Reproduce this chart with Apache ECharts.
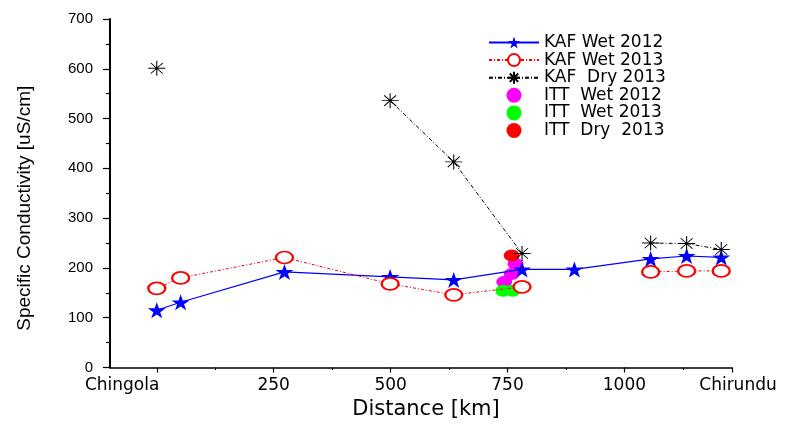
<!DOCTYPE html>
<html>
<head>
<meta charset="utf-8">
<script src="https://cdn.jsdelivr.net/npm/echarts@6/dist/echarts.min.js"></script>
<style>html,body{margin:0;padding:0;background:#fff}#c{width:795px;height:428px}</style>
</head>
<body>
<div id="c"></div>
<script>
// Sampling sites along the river (km from Chingola)
var sites = [0, 51, 273, 499, 635, 781, 893, 1056, 1133, 1207];
var kafWet2012 = [115, 131, 192, 182, 176, 197, 197, 218, 224, 221];
var kafWet2013 = [159, 180, 221, 168, 146, 162, null, 192, 194, 194];
var kafDry2013 = [601, null, null, 536, 413, 229, null, 250, 249, 237];

var ittWet2012Km = [743, 759, 767];
var ittWet2012Val = [172, 188, 208];
var ittWet2013Km = [741, 761];
var ittWet2013Val = [154, 154];
var ittDry2013Km = [759];
var ittDry2013Val = [225];

var xMajorTicks = [0, 250, 500, 750, 1000, 1230];
var xMinorTicks = [125, 375, 625, 875, 1125];
var xLabelValues = [-74, 250, 500, 750, 1000, 1230];
var xLabelNames = {'-74': 'Chingola', '1230': 'Chirundu'};

function pairs(xs, ys) { return xs.map(function (x, i) { return [x, ys[i]]; }); }

var STAR = 'path://M0,-10 L2.245,-3.09 L9.511,-3.09 L3.633,1.18 L5.878,8.09 L0,3.82 L-5.878,8.09 L-3.633,1.18 L-9.511,-3.09 L-2.245,-3.09 Z';
var AST = 'path://M-10,0 L10,0 M0,-10 L0,10 M-7,-7 L7,7 M-7,7 L7,-7';

var chart = echarts.init(document.getElementById('c'), null, {renderer: 'canvas'});
chart.setOption({
  animation: false,
  backgroundColor: '#fff',
  grid: {left: 110, right: 63, top: 19, bottom: 60.5},
  legend: {
    left: 483, top: 29, orient: 'vertical',
    itemWidth: 50, itemHeight: 15, itemGap: 0.6,
    textStyle: {fontFamily: 'DejaVu Sans', fontSize: 17, color: '#000', lineHeight: 16},
    data: ['KAF Wet 2012', 'KAF Wet 2013', 'KAF  Dry 2013', 'ITT  Wet 2012', 'ITT  Wet 2013', 'ITT  Dry  2013']
  },
  xAxis: [{
    type: 'value', min: -100, max: 1230,
    name: 'Distance [km]', nameLocation: 'middle', nameGap: 31,
    nameTextStyle: {fontFamily: 'DejaVu Sans', fontSize: 21, color: '#000', padding: [0, 0, 0, 10]},
    axisLine: {show: true, onZero: false, lineStyle: {color: '#000', width: 1.5}},
    axisTick: {show: true, inside: false, length: 5, customValues: xMajorTicks, lineStyle: {color: '#000', width: 1.2}},
    axisLabel: {
      show: true, margin: 10, customValues: xLabelValues, showMinLabel: true, showMaxLabel: true,
      fontFamily: 'DejaVu Sans', fontSize: 17, color: '#000',
      formatter: function (v) {
        var k = String(Math.round(v));
        if (k === '1230') return '{r|Chirundu}';
        return xLabelNames[k] || k;
      },
      rich: {r: {fontFamily: 'DejaVu Sans', fontSize: 17, color: '#000', padding: [0, 0, 0, 12]}}
    },
    splitLine: {show: false}
  }, {
    type: 'value', min: -100, max: 1230, position: 'bottom', offset: 0,
    axisLine: {show: false},
    axisTick: {show: true, inside: false, length: 2.5, customValues: xMinorTicks, lineStyle: {color: '#000', width: 1}},
    axisLabel: {show: false},
    splitLine: {show: false}
  }],
  yAxis: {
    type: 'value', min: 0, max: 700, interval: 100,
    name: 'Specific Conductivity [uS/cm]', nameLocation: 'middle', nameGap: 76, nameRotate: 90,
    nameTextStyle: {fontFamily: 'Liberation Sans', fontSize: 19, color: '#000', padding: [0, 30, 0, 0]},
    axisLine: {show: true, onZero: false, lineStyle: {color: '#000', width: 2}},
    axisTick: {show: true, inside: false, length: 7, lineStyle: {color: '#000', width: 1.2}},
    minorTick: {show: true, splitNumber: 2, length: 4, lineStyle: {color: '#000', width: 1.2}},
    axisLabel: {margin: 17, fontFamily: 'Liberation Sans', fontSize: 15, color: '#000'},
    splitLine: {show: false}
  },
  series: [{
    name: 'KAF Wet 2012', type: 'line', data: pairs(sites, kafWet2012),
    symbol: STAR, symbolSize: [18, 16], connectNulls: false,
    lineStyle: {color: '#0000ff', width: 1.2},
    itemStyle: {color: '#0000ff'}
  }, {
    name: 'KAF Wet 2013', type: 'line', data: pairs(sites, kafWet2013),
    symbol: 'emptyCircle', symbolSize: [17, 12], connectNulls: false,
    lineStyle: {color: '#ff0000', width: 1, type: [3, 2, 1, 2]},
    itemStyle: {color: '#ff0000', borderColor: '#ff0000', borderWidth: 1.2}
  }, {
    name: 'KAF  Dry 2013', type: 'line', data: pairs(sites, kafDry2013),
    symbol: AST, symbolSize: [17, 15], connectNulls: false,
    lineStyle: {color: '#000', width: 1, type: [4, 2, 1, 2]},
    itemStyle: {color: '#000', borderColor: '#000', borderWidth: 1}
  }, {
    name: 'ITT  Wet 2012', type: 'scatter', data: pairs(ittWet2012Km, ittWet2012Val),
    symbol: 'circle', symbolSize: [16, 12], itemStyle: {color: '#ff00ff', opacity: 1}
  }, {
    name: 'ITT  Wet 2013', type: 'scatter', data: pairs(ittWet2013Km, ittWet2013Val),
    symbol: 'circle', symbolSize: [16, 12], itemStyle: {color: '#00ff00', opacity: 1}
  }, {
    name: 'ITT  Dry  2013', type: 'scatter', data: pairs(ittDry2013Km, ittDry2013Val),
    symbol: 'circle', symbolSize: [16, 12], itemStyle: {color: '#ff0000', opacity: 1}
  }]
});
</script>
</body>
</html>
